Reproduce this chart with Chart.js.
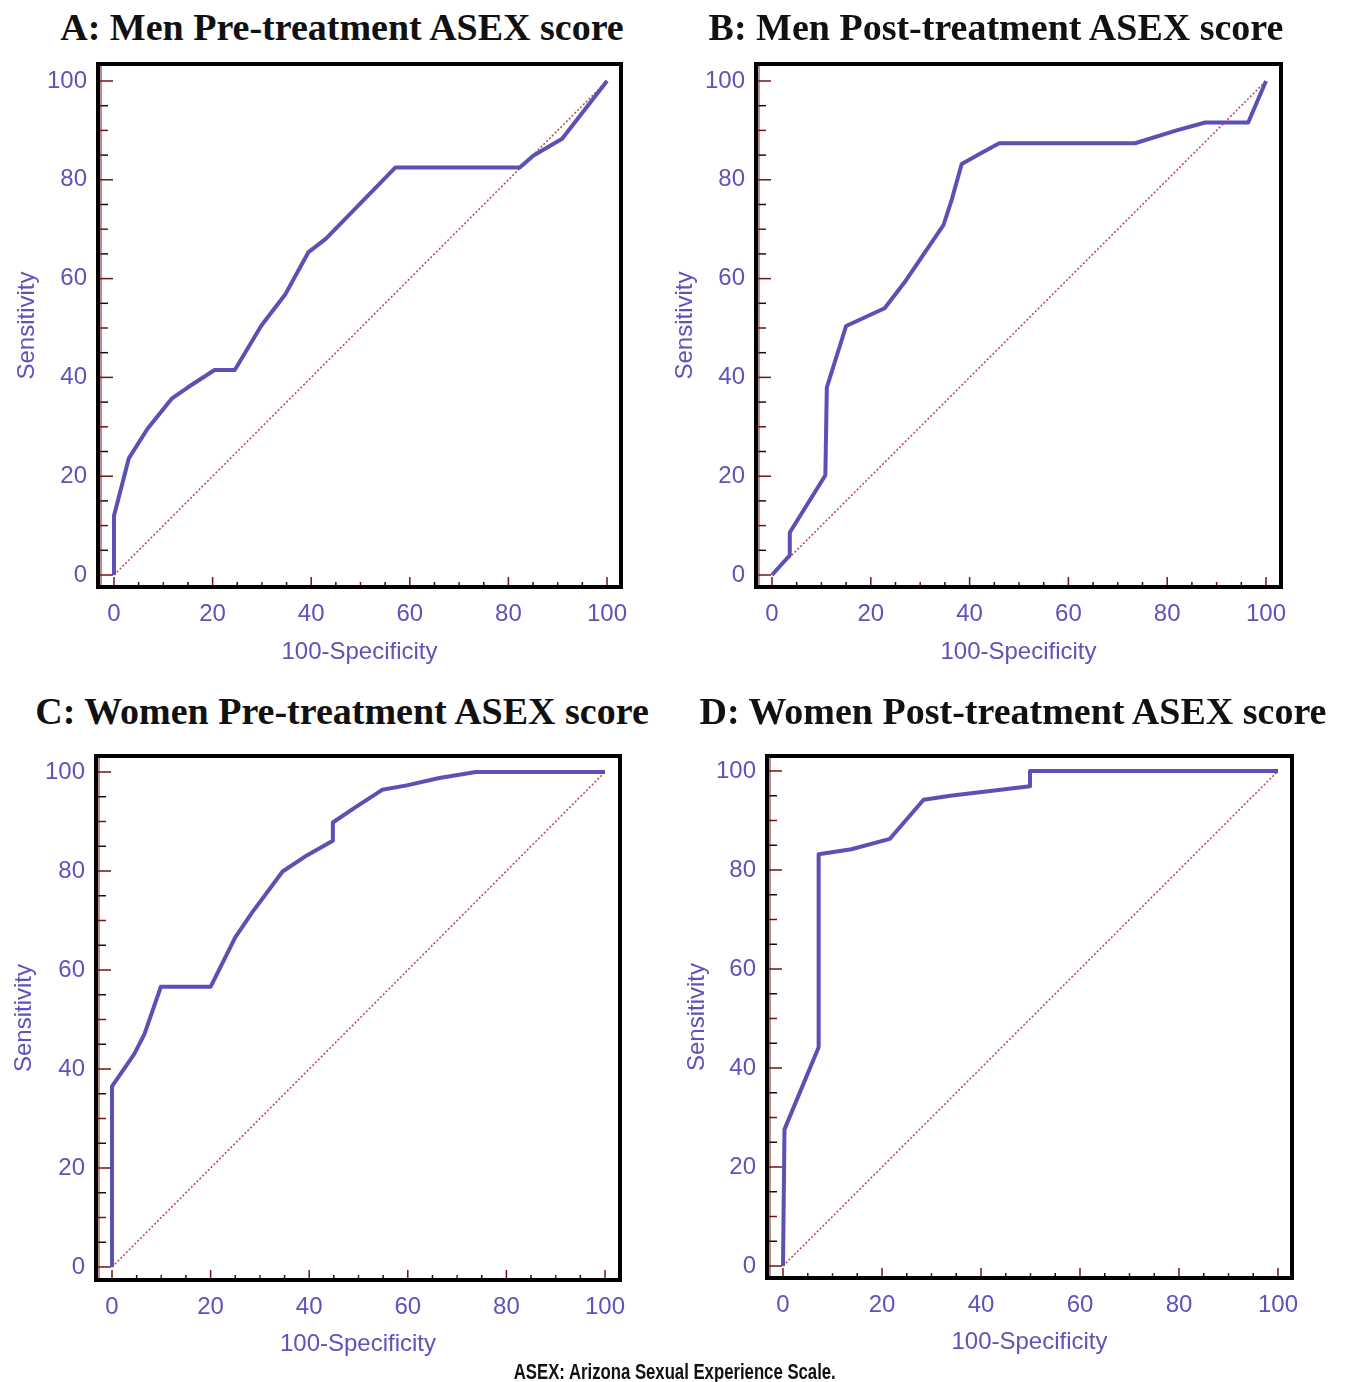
<!DOCTYPE html>
<html>
<head>
<meta charset="utf-8">
<script src="https://cdn.jsdelivr.net/npm/chart.js@4.4.1/dist/chart.umd.min.js"></script>
<style>
  body { margin: 0; background: #fff; width: 1347px; height: 1382px; position: relative; overflow: hidden; }
  canvas.panel { position: absolute; }
  .title { position: absolute; width: 800px; text-align: center; white-space: nowrap;
           font: bold 38px "Liberation Serif", "Times New Roman", serif; line-height: 38px; color: #111; }
  .caption { position: absolute; left: 375px; width: 600px; top: 1361px; text-align: center; z-index: 2; }
  .caption span { display: inline-block; white-space: nowrap; transform-origin: 50% 50%;
                  font: bold 22px "Liberation Sans", Arial, sans-serif; line-height: 22px; color: #111; }
</style>
</head>
<body>
<div class="caption"><span id="cap">ASEX: Arizona Sexual Experience Scale.</span></div>
<script>
// ROC curves (x = 100-Specificity, y = Sensitivity)
const menPreX = [0, 0, 3, 6.8, 11.7, 15, 20.4, 24.5, 29.9, 34.8, 39.4, 43, 57.1, 82.3, 85.1, 90.9, 100];
const menPreY = [0, 12, 23.6, 29.6, 35.7, 38, 41.5, 41.5, 50.5, 56.9, 65.3, 68.1, 82.5, 82.5, 84.9, 88.3, 100];

const menPostX = [0, 3.6, 3.6, 10.8, 11.1, 15, 22.8, 26.8, 34.7, 36.4, 38.4, 42, 46, 73.5, 81.9, 87.7, 96.4, 100];
const menPostY = [0, 4, 8.6, 20.2, 38, 50.4, 54, 59.2, 70.8, 76, 83.2, 85.2, 87.4, 87.4, 90, 91.6, 91.6, 100];

const womenPreX = [0, 0, 4.5, 6.6, 9.9, 20, 25, 28.4, 34.6, 39.6, 44.8, 44.8, 49.1, 54.8, 59.8, 66.4, 73.8, 100];
const womenPreY = [0, 36.5, 43, 47.1, 56.6, 56.6, 66.6, 71.6, 79.9, 83.2, 86.1, 89.8, 92.7, 96.4, 97.3, 98.8, 100, 100];

const womenPostX = [0, 0.3, 7.2, 7.2, 13.8, 21.6, 28.4, 33.8, 49.9, 49.9, 100];
const womenPostY = [0, 27.6, 44.2, 83.2, 84.2, 86.3, 94.2, 95, 96.9, 100, 100];

// chance line
const refX = [0, 100];
const refY = [0, 100];

const tickValues = [0, 5, 10, 15, 20, 25, 30, 35, 40, 45, 50, 55, 60, 65, 70, 75, 80, 85, 90, 95, 100];
const labelValues = [0, 20, 40, 60, 80, 100];

const titles = [
  'A: Men Pre-treatment ASEX score',
  'B: Men Post-treatment ASEX score',
  'C: Women Pre-treatment ASEX score',
  'D: Women Post-treatment ASEX score'
];

const purple = '#5b50b4';
const textPurple = '#5e53b9';

// squeeze the caption to the condensed width of the original
const cap = document.getElementById('cap');
cap.style.transform = 'scaleX(' + (322 / cap.getBoundingClientRect().width) + ')';

// where each panel sits on the page
const panels = [
  { xs: menPreX, ys: menPreY, title: titles[0],
    box: { left: 0, top: 0, width: 660, height: 690 },
    frame: { left: 98, top: 64, right: 621, bottom: 587 },
    px: { x0: 114, x100: 607, y0: 575, y100: 81 },
    yTitleX: 27, xTitleY: 652, titleX: 342, titleY: 27 },
  { xs: menPostX, ys: menPostY, title: titles[1],
    box: { left: 660, top: 0, width: 687, height: 690 },
    frame: { left: 756, top: 64, right: 1281, bottom: 587 },
    px: { x0: 772, x100: 1266, y0: 575, y100: 81 },
    yTitleX: 685, xTitleY: 652, titleX: 996, titleY: 27 },
  { xs: womenPreX, ys: womenPreY, title: titles[2],
    box: { left: 0, top: 690, width: 660, height: 690 },
    frame: { left: 96, top: 756, right: 620, bottom: 1280 },
    px: { x0: 112, x100: 605, y0: 1267, y100: 772 },
    yTitleX: 24, xTitleY: 1344, titleX: 342, titleY: 711 },
  { xs: womenPostX, ys: womenPostY, title: titles[3],
    box: { left: 680, top: 690, width: 667, height: 690 },
    frame: { left: 767, top: 756, right: 1292, bottom: 1278 },
    px: { x0: 783, x100: 1278, y0: 1266, y100: 771 },
    yTitleX: 697, xTitleY: 1342, titleX: 1013, titleY: 711 }
];

// inward tick marks, frame and inner axis line
const frameAndTicks = {
  id: 'frameAndTicks',
  beforeDatasetsDraw(chart) {
    const { ctx, chartArea: a, scales: { x, y } } = chart;
    ctx.save();
    ctx.lineWidth = 1.5;
    tickValues.forEach((v, i) => {
      const major = labelValues.includes(v);
      ctx.strokeStyle = i % 2 ? '#151010' : '#6e1414';
      const py = y.getPixelForValue(v);
      ctx.beginPath();
      ctx.moveTo(a.left, py);
      ctx.lineTo(a.left + (major ? 15 : 10), py);
      ctx.stroke();
      const px = x.getPixelForValue(v);
      ctx.beginPath();
      ctx.moveTo(px, a.bottom);
      ctx.lineTo(px, a.bottom - (major ? 10 : 5));
      ctx.stroke();
    });
    ctx.restore();
  },
  afterDatasetsDraw(chart) {
    const { ctx, chartArea: a } = chart;
    ctx.save();
    ctx.strokeStyle = '#7a1a1a';
    ctx.lineWidth = 1;
    ctx.beginPath();
    ctx.moveTo(a.left + 3, a.top);
    ctx.lineTo(a.left + 3, a.bottom);
    ctx.stroke();
    ctx.strokeStyle = '#000';
    ctx.lineWidth = 4;
    ctx.strokeRect(a.left, a.top, a.right - a.left, a.bottom - a.top);
    ctx.restore();
  }
};

const tickFont = { family: '"Liberation Sans", Arial, sans-serif', size: 24 };
const axisFont = { family: '"Liberation Sans", Arial, sans-serif', size: 24 };
const half = axisFont.size * 1.2 / 2;

panels.forEach((p) => {
  // title
  const t = document.createElement('div');
  t.className = 'title';
  t.textContent = p.title;
  t.style.left = (p.titleX - 400) + 'px';
  t.style.top = (p.titleY - 19) + 'px';
  document.body.appendChild(t);

  const canvas = document.createElement('canvas');
  canvas.className = 'panel';
  canvas.width = p.box.width;
  canvas.height = p.box.height;
  canvas.style.left = p.box.left + 'px';
  canvas.style.top = p.box.top + 'px';
  document.body.appendChild(canvas);

  const f = p.frame, q = p.px;
  const xUnit = (q.x100 - q.x0) / 100;
  const yUnit = (q.y0 - q.y100) / 100;
  const xMin = -(q.x0 - f.left) / xUnit;
  const xMax = 100 + (f.right - q.x100) / xUnit;
  const yMin = -(f.bottom - q.y0) / yUnit;
  const yMax = 100 + (q.y100 - f.top) / yUnit;

  new Chart(canvas, {
    type: 'scatter',
    data: {
      datasets: [
        {
          data: p.xs.map((v, i) => ({ x: v, y: p.ys[i] })),
          showLine: true,
          borderColor: purple,
          borderWidth: 4,
          borderJoinStyle: 'round',
          pointRadius: 0,
          tension: 0
        },
        {
          data: refX.map((v, i) => ({ x: v, y: refY[i] })),
          showLine: true,
          borderColor: '#b8405c',
          borderWidth: 1.5,
          borderDash: [2, 2],
          pointRadius: 0
        }
      ]
    },
    options: {
      responsive: false,
      animation: false,
      events: [],
      layout: { padding: { top: f.top - p.box.top, right: p.box.left + p.box.width - f.right, bottom: 0, left: 0 } },
      plugins: { legend: { display: false }, tooltip: { enabled: false } },
      scales: {
        x: {
          type: 'linear',
          min: xMin,
          max: xMax,
          afterBuildTicks: (s) => { s.ticks = tickValues.map((v) => ({ value: v })); },
          afterFit: (s) => { s.height = p.box.top + p.box.height - f.bottom; },
          grid: { display: false, drawTicks: false },
          border: { display: false },
          ticks: {
            autoSkip: false, maxRotation: 0, padding: 13, color: textPurple, font: tickFont,
            callback: (v) => (labelValues.includes(v) ? String(v) : '')
          },
          title: {
            display: true, text: '100-Specificity', color: textPurple, font: axisFont,
            padding: { top: 0, bottom: p.box.top + p.box.height - p.xTitleY - half }
          }
        },
        y: {
          type: 'linear',
          min: yMin,
          max: yMax,
          afterBuildTicks: (s) => { s.ticks = tickValues.map((v) => ({ value: v })); },
          afterFit: (s) => { s.width = f.left - p.box.left; },
          grid: { display: false, drawTicks: false },
          border: { display: false },
          ticks: {
            autoSkip: false, padding: 11, color: textPurple, font: tickFont,
            callback: (v) => (labelValues.includes(v) ? String(v) : '')
          },
          title: {
            display: true, text: 'Sensitivity', color: textPurple, font: axisFont,
            padding: { top: p.yTitleX - p.box.left - half, bottom: 0 }
          }
        }
      }
    },
    plugins: [frameAndTicks]
  });
});
</script>
</body>
</html>
